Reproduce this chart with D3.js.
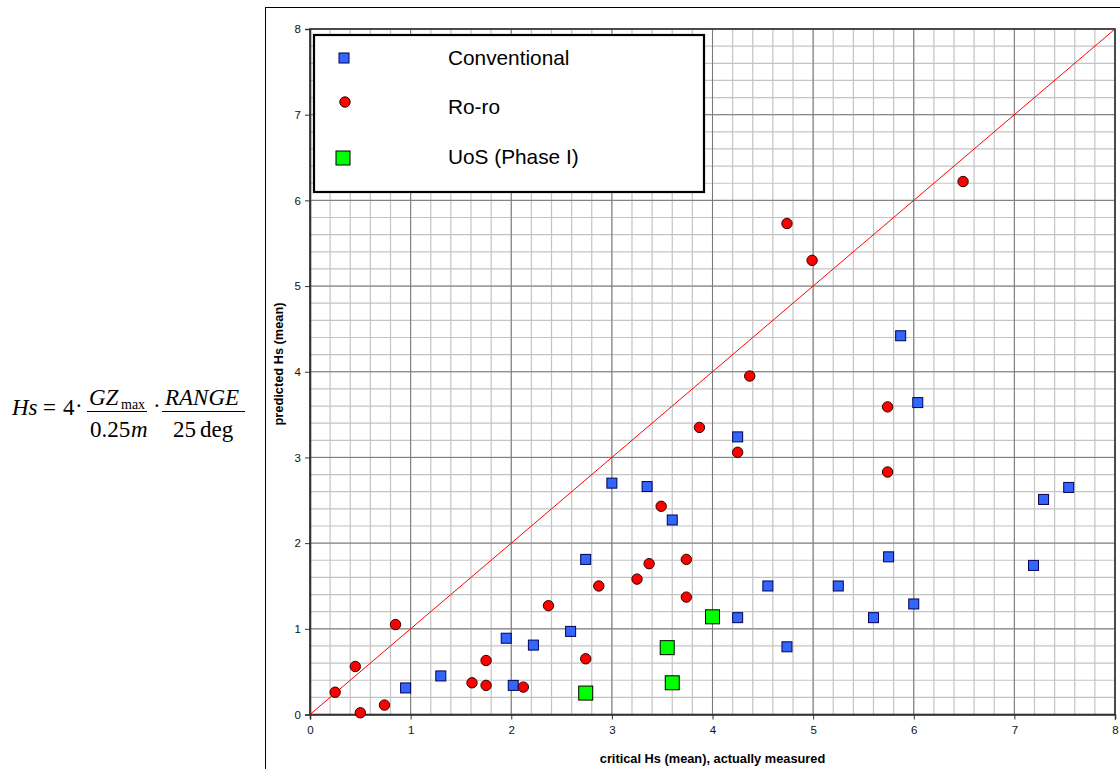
<!DOCTYPE html>
<html>
<head>
<meta charset="utf-8">
<script src="https://cdn.jsdelivr.net/npm/d3@7"></script>
<style>
  html, body { margin: 0; padding: 0; background: #fff; }
  svg { display: block; }
</style>
</head>
<body>
<svg id="chart" width="1120" height="769"></svg>
<script>
// ---------- data ----------
const convX = [0.95, 1.30, 1.95, 2.02, 2.22, 2.59, 2.74, 3.00, 3.35, 3.60, 4.25, 4.25, 4.55, 4.74, 5.25, 5.60, 5.75, 5.87, 6.00, 6.04, 7.19, 7.29, 7.54];
const convY = [0.31, 0.45, 0.89, 0.34, 0.81, 0.97, 1.81, 2.70, 2.66, 2.27, 3.24, 1.13, 1.50, 0.79, 1.50, 1.13, 1.84, 4.42, 1.29, 3.64, 1.74, 2.51, 2.65];

const roroX = [0.25, 0.45, 0.50, 0.74, 0.85, 1.61, 1.75, 1.75, 2.12, 2.37, 2.74, 2.87, 3.25, 3.37, 3.49, 3.74, 3.74, 3.87, 4.25, 4.37, 4.74, 4.99, 5.74, 5.74, 6.49];
const roroY = [0.26, 0.56, 0.02, 0.11, 1.05, 0.37, 0.34, 0.63, 0.32, 1.27, 0.65, 1.50, 1.58, 1.76, 2.43, 1.81, 1.37, 3.35, 3.06, 3.95, 5.73, 5.30, 3.59, 2.83, 6.22];

const uosX = [2.74, 3.55, 3.60, 4.00];
const uosY = [0.25, 0.78, 0.37, 1.14];

const axisTicks = [0, 1, 2, 3, 4, 5, 6, 7, 8];
const minorTicks = d3.range(0, 8.0001, 0.2);
const legendLabels = ["Conventional", "Ro-ro", "UoS (Phase I)"];
const xTitle = "critical Hs (mean), actually measured";
const yTitle = "predicted Hs (mean)";

// ---------- setup ----------
const svg = d3.select("#chart");
const font = "'Liberation Sans', Arial, sans-serif";
const serif = "'Liberation Serif', 'Times New Roman', serif";

const x = d3.scaleLinear().domain([0, 8]).range([310, 1115]);
const y = d3.scaleLinear().domain([0, 8]).range([714.5, 29]);

// outer chart frame
svg.append("rect")
  .attr("x", 265.5).attr("y", 7.5)
  .attr("width", 900).attr("height", 800)
  .attr("fill", "#fff").attr("stroke", "#000").attr("stroke-width", 1);

// ---------- grid ----------
const grid = svg.append("g");
grid.selectAll("line.vmin")
  .data(minorTicks)
  .enter().append("line")
  .attr("x1", d => x(d)).attr("x2", d => x(d))
  .attr("y1", y(0)).attr("y2", y(8))
  .attr("stroke", "#c4c4c4").attr("stroke-width", 1.2);
grid.selectAll("line.hmin")
  .data(minorTicks)
  .enter().append("line")
  .attr("y1", d => y(d)).attr("y2", d => y(d))
  .attr("x1", x(0)).attr("x2", x(8))
  .attr("stroke", "#c4c4c4").attr("stroke-width", 1.2);
grid.selectAll("line.vmaj")
  .data(axisTicks)
  .enter().append("line")
  .attr("x1", d => x(d)).attr("x2", d => x(d))
  .attr("y1", y(0)).attr("y2", y(8))
  .attr("stroke", "#7a7a7a").attr("stroke-width", 1);
grid.selectAll("line.hmaj")
  .data(axisTicks)
  .enter().append("line")
  .attr("y1", d => y(d)).attr("y2", d => y(d))
  .attr("x1", x(0)).attr("x2", x(8))
  .attr("stroke", "#7a7a7a").attr("stroke-width", 1);

// plot border
svg.append("rect")
  .attr("x", x(0)).attr("y", y(8))
  .attr("width", x(8) - x(0)).attr("height", y(0) - y(8))
  .attr("fill", "none").attr("stroke", "#333").attr("stroke-width", 1.6);

// ---------- axes ----------
const xAxis = d3.axisBottom(x).tickValues(axisTicks).tickSize(5).tickPadding(6).tickFormat(d3.format("d"));
const yAxis = d3.axisLeft(y).tickValues(axisTicks).tickSize(5).tickPadding(4).tickFormat(d3.format("d"));

const gx = svg.append("g").attr("transform", `translate(0,${y(0)})`).call(xAxis);
const gy = svg.append("g").attr("transform", `translate(${x(0)},0)`).call(yAxis);
[gx, gy].forEach(g => {
  g.select(".domain").attr("stroke", "#333").attr("stroke-width", 1.6);
  g.selectAll(".tick line").attr("stroke", "#333");
  g.selectAll(".tick text").attr("fill", "#111").attr("font-family", font).attr("font-size", 11.5);
});

svg.append("text")
  .attr("x", (x(0) + x(8)) / 2).attr("y", 763)
  .attr("text-anchor", "middle")
  .attr("font-family", font).attr("font-size", 12.8).attr("font-weight", "bold")
  .text(xTitle);

svg.append("text")
  .attr("transform", `translate(283,364) rotate(-90)`)
  .attr("text-anchor", "middle")
  .attr("font-family", font).attr("font-size", 12.8).attr("font-weight", "bold")
  .text(yTitle);

// ---------- 1:1 line ----------
svg.append("line")
  .attr("x1", x(0)).attr("y1", y(0))
  .attr("x2", x(8)).attr("y2", y(8))
  .attr("stroke", "#ff0000").attr("stroke-width", 1);

// ---------- marks ----------
const conv = convX.map((v, i) => ({ x: v, y: convY[i] }));
const roro = roroX.map((v, i) => ({ x: v, y: roroY[i] }));
const uos = uosX.map((v, i) => ({ x: v, y: uosY[i] }));

const marks = svg.append("g");
marks.selectAll("rect.conv")
  .data(conv)
  .enter().append("rect")
  .attr("x", d => x(d.x) - 5).attr("y", d => y(d.y) - 5)
  .attr("width", 10).attr("height", 10)
  .attr("fill", "#3366ff").attr("stroke", "#000050").attr("stroke-width", 1);

marks.selectAll("circle.roro")
  .data(roro)
  .enter().append("circle")
  .attr("cx", d => x(d.x)).attr("cy", d => y(d.y))
  .attr("r", 5.2)
  .attr("fill", "#ff0000").attr("stroke", "#300000").attr("stroke-width", 1);

marks.selectAll("rect.uos")
  .data(uos)
  .enter().append("rect")
  .attr("x", d => x(d.x) - 7).attr("y", d => y(d.y) - 7)
  .attr("width", 14).attr("height", 14)
  .attr("fill", "#00ff00").attr("stroke", "#000").attr("stroke-width", 1);

// ---------- legend ----------
const leg = svg.append("g");
leg.append("rect")
  .attr("x", 314).attr("y", 35)
  .attr("width", 390).attr("height", 157)
  .attr("fill", "#fff").attr("stroke", "#000").attr("stroke-width", 2.2);

const legY = [58, 102, 158];
const legTextY = [65, 114, 164];
leg.append("rect").attr("x", 339).attr("y", legY[0] - 5).attr("width", 10).attr("height", 10)
  .attr("fill", "#3366ff").attr("stroke", "#000050");
leg.append("circle").attr("cx", 345).attr("cy", legY[1]).attr("r", 5.2)
  .attr("fill", "#ff0000").attr("stroke", "#300000");
leg.append("rect").attr("x", 336).attr("y", legY[2] - 7).attr("width", 14).attr("height", 14)
  .attr("fill", "#00ff00").attr("stroke", "#000");

leg.selectAll("text")
  .data(legendLabels)
  .enter().append("text")
  .attr("x", 448).attr("y", (d, i) => legTextY[i])
  .attr("font-family", font).attr("font-size", 20.8).attr("fill", "#000")
  .text(d => d);

// ---------- formula ----------
const f = svg.append("g").attr("font-family", serif).attr("fill", "#000");
const ft = (tx, ty, s, size, italic) => f.append("text")
  .attr("x", tx).attr("y", ty).attr("font-size", size)
  .attr("font-style", italic ? "italic" : "normal").text(s);

ft(12, 415, "Hs", 23, true);
ft(43, 415, "=", 23, false);
ft(63, 415, "4", 23, false);
ft(75, 413, "·", 23, false);
ft(89, 405, "GZ", 23, true);
ft(121, 409, "max", 14, false);
f.append("line").attr("x1", 87).attr("x2", 147).attr("y1", 411.5).attr("y2", 411.5)
  .attr("stroke", "#000").attr("stroke-width", 1);
ft(90, 437, "0.25", 23, false);
ft(131, 437, "m", 23, true);
ft(153, 413, "·", 23, false);
ft(165, 405, "RANGE", 23, true);
f.append("line").attr("x1", 162).attr("x2", 245).attr("y1", 411.5).attr("y2", 411.5)
  .attr("stroke", "#000").attr("stroke-width", 1);
ft(173, 437, "25", 23, false);
ft(200, 437, "deg", 23, false);
</script>
</body>
</html>
